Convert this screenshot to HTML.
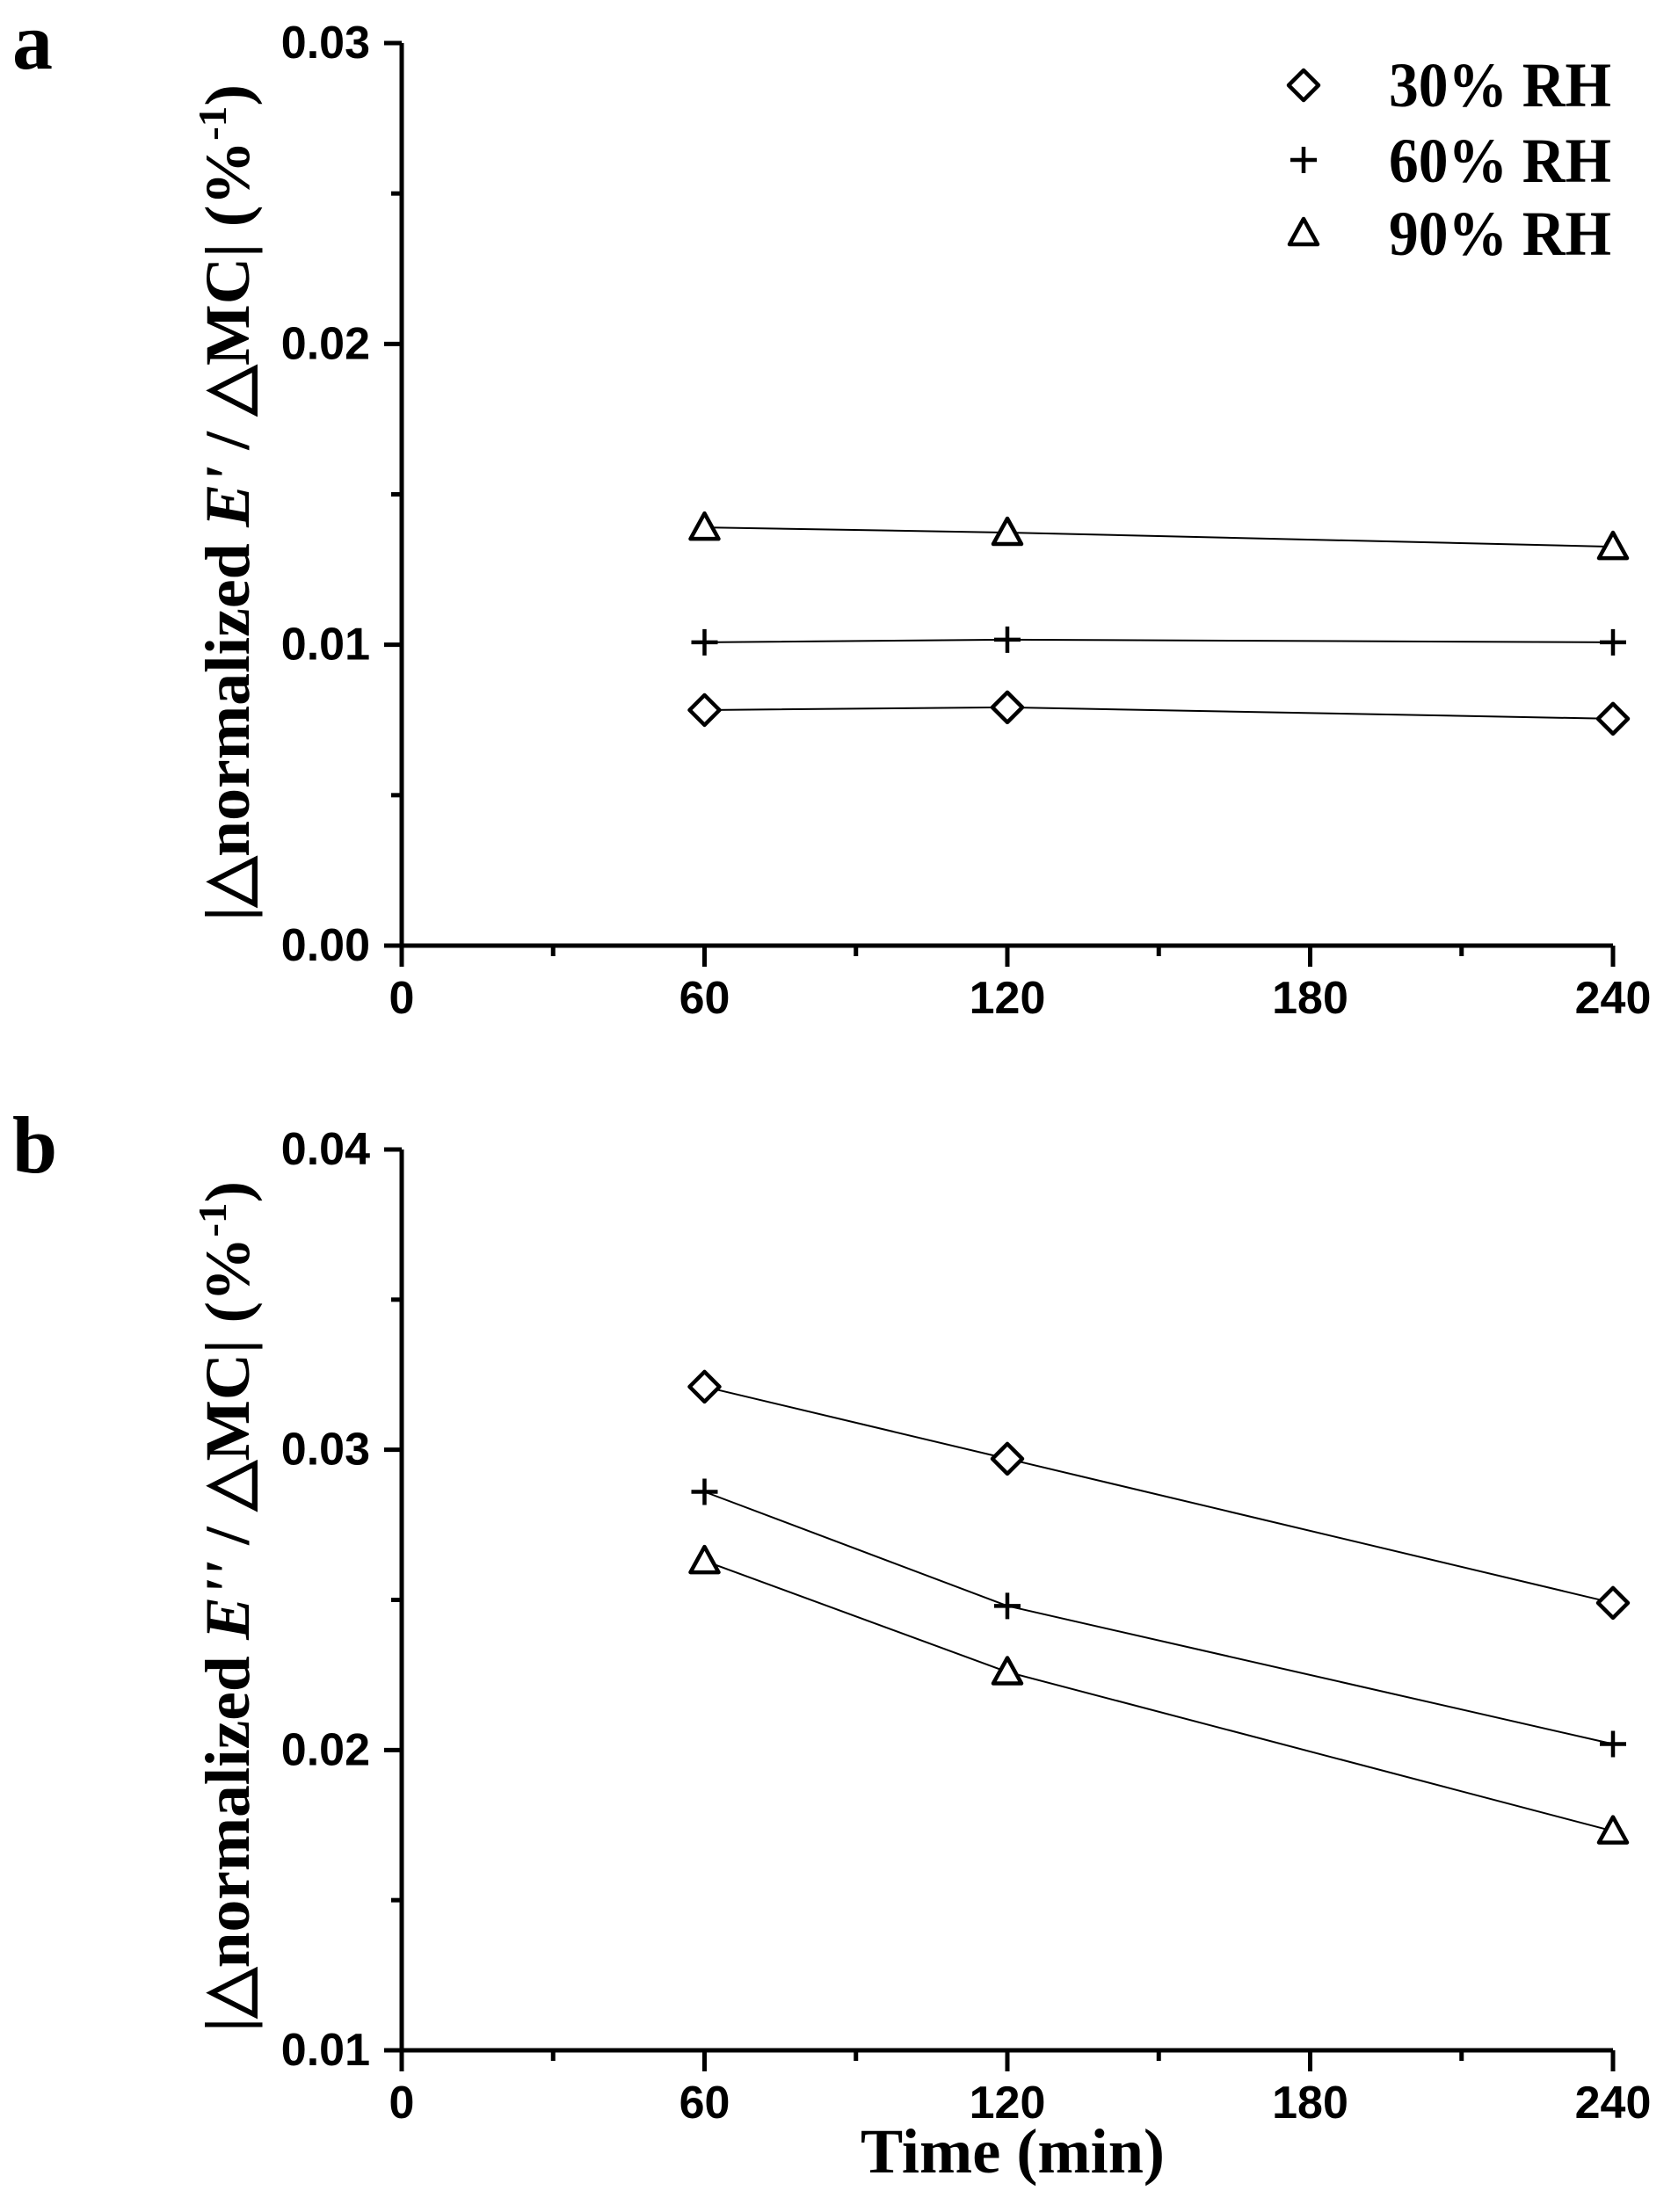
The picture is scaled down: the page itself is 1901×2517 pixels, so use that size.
<!DOCTYPE html>
<html><head><meta charset="utf-8"><style>
html,body{margin:0;padding:0;background:#fff;}
svg{display:block;}
.tick{font-family:"Liberation Sans",Arial,sans-serif;font-weight:bold;font-size:52px;fill:#000;}
.ser{font-family:"Liberation Serif","Times New Roman",serif;font-weight:bold;fill:#000;}
</style></head><body>
<svg id="fig" width="1901" height="2517" viewBox="0 0 1901 2517" xmlns="http://www.w3.org/2000/svg"></svg>
<script>
const xCategories = [60, 120, 240];
const xTicks = [0, 60, 120, 180, 240];
const seriesNames = ["30% RH", "60% RH", "90% RH"];
const seriesMarkers = ["diamond", "plus", "triangle"];
const aRH30 = [0.00783, 0.00792, 0.00754];
const aRH60 = [0.01008, 0.01017, 0.01008];
const aRH90 = [0.0139, 0.01373, 0.01326];
const aTicks = ["0.00", "0.01", "0.02", "0.03"];
const bRH30 = [0.0321, 0.0297, 0.0249];
const bRH60 = [0.0286, 0.0248, 0.0202];
const bRH90 = [0.0263, 0.0226, 0.0173];
const bTicks = ["0.01", "0.02", "0.03", "0.04"];

const NS = "http://www.w3.org/2000/svg";
const svg = document.getElementById("fig");
function mk(tag, attrs, parent) {
  const e = document.createElementNS(NS, tag);
  for (const k in attrs) e.setAttribute(k, attrs[k]);
  (parent || svg).appendChild(e);
  return e;
}
const X0 = 457, X1 = 1835;
function xs(v) { return X0 + (v - 0) / 240 * (X1 - X0); }

function marker(g, type, cx, cy) {
  let e;
  if (type === "diamond") {
    e = mk("path", {d: `M${cx} ${cy-17}L${cx+17} ${cy}L${cx} ${cy+17}L${cx-17} ${cy}Z`, fill: "#fff", stroke: "#000", "stroke-width": 4.5, "stroke-linejoin": "round"}, g);
  } else if (type === "plus") {
    e = mk("path", {d: `M${cx-15} ${cy}H${cx+15}M${cx} ${cy-15}V${cy+15}`, fill: "none", stroke: "#000", "stroke-width": 4.5}, g);
  } else {
    e = mk("path", {d: `M${cx} ${cy-16}L${cx+16} ${cy+13}L${cx-16} ${cy+13}Z`, fill: "#fff", stroke: "#000", "stroke-width": 4.5, "stroke-linejoin": "round"}, g);
  }
  return e;
}

function panel(id, letter, letterY, yTop, yBot, yMin, yMax, ticks, series, title, titleCenter, titleLen, showLegend, showXTitle) {
  const g = mk("g", {});
  
  
  const ys = v => yBot - (v - yMin) / (yMax - yMin) * (yBot - yTop);
  const lab = mk("text", {x: 14, y: letterY, class: "ser", "font-size": 92}, g);
  lab.textContent = letter;
  
  
  // axes
  const ax = mk("path", {d: `M${X0} ${yTop}V${yBot}H${X1}`, fill: "none", stroke: "#000", "stroke-width": 5}, g);
  
  
  // y ticks
  const step = (yMax - yMin) / (ticks.length - 1);
  for (let i = 0; i < ticks.length; i++) {
    const v = yMin + i * step, y = ys(v);
    mk("line", {x1: X0 - 20, x2: X0, y1: y, y2: y, stroke: "#000", "stroke-width": 5}, g);
    const t = mk("text", {x: X0 - 36, y: y + 17, class: "tick", "text-anchor": "end"}, g);
    t.textContent = ticks[i];
    
    
    if (i < ticks.length - 1) {
      const ym = ys(v + step / 2);
      mk("line", {x1: X0 - 12, x2: X0, y1: ym, y2: ym, stroke: "#000", "stroke-width": 5}, g);
    }
  }
  // x ticks
  for (let i = 0; i < xTicks.length; i++) {
    const x = xs(xTicks[i]);
    mk("line", {x1: x, x2: x, y1: yBot, y2: yBot + 24, stroke: "#000", "stroke-width": 5}, g);
    const t = mk("text", {x: x, y: yBot + 77, class: "tick", "text-anchor": "middle"}, g);
    t.textContent = xTicks[i];
    
    
    if (i < xTicks.length - 1) {
      const xm = xs(xTicks[i] + 30);
      mk("line", {x1: xm, x2: xm, y1: yBot, y2: yBot + 12, stroke: "#000", "stroke-width": 5}, g);
    }
  }
  // series
  series.forEach((vals, si) => {
    const sg = mk("g", {}, g);
    
    
    const pts = vals.map((v, i) => xs(xCategories[i]) + "," + ys(v)).join(" ");
    const ln = mk("polyline", {points: pts, fill: "none", stroke: "#000", "stroke-width": 2}, sg);
    
    
    vals.forEach((v, i) => {
      const m = marker(sg, seriesMarkers[si], xs(xCategories[i]), ys(v));
      
      
    });
  });
  // y title
  const tt = mk("text", {x: 0, y: 0, class: "ser", "font-size": 72, "text-anchor": "middle", transform: `translate(283 ${titleCenter}) rotate(-90)`, textLength: titleLen, lengthAdjust: "spacingAndGlyphs"}, g);
  tt.innerHTML = title;
  
  
  if (showLegend) {
    const lg = mk("g", {}, g);
    
    
    const ly = [97, 182, 265], lb = [121, 207, 290];
    seriesNames.forEach((n, i) => {
      const m = marker(lg, seriesMarkers[i], 1483, ly[i]);
      
      
      const t = mk("text", {x: 1580, y: lb[i], class: "ser", "font-size": 72, textLength: 253, lengthAdjust: "spacingAndGlyphs"}, lg);
      t.textContent = n;
      
      
    });
  }
  if (showXTitle) {
    const xt = mk("text", {x: 1152, y: 2472, class: "ser", "font-size": 72, "text-anchor": "middle", textLength: 346, lengthAdjust: "spacingAndGlyphs"}, g);
    xt.textContent = "Time (min)";
    
    
  }
}

panel("a", "a", 78, 49, 1076, 0, 0.03, aTicks, [aRH30, aRH60, aRH90],
  '|△normalized <tspan font-style="italic">E\'</tspan> / △MC| (%<tspan font-size="46" dy="-26">-1</tspan><tspan dy="26">)</tspan>', 572, 952, true, false);
panel("b", "b", 1334, 1308, 2333, 0.01, 0.04, bTicks, [bRH30, bRH60, bRH90],
  '|△normalized <tspan font-style="italic">E\'\'</tspan> / △MC| (%<tspan font-size="46" dy="-26">-1</tspan><tspan dy="26">)</tspan>', 1828, 968, false, true);
</script>
</body></html>
